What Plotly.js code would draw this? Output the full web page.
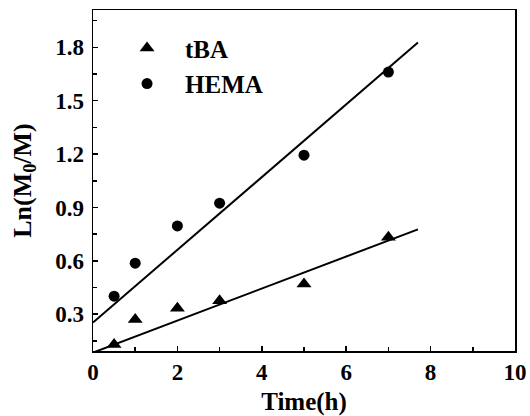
<!DOCTYPE html>
<html>
<head>
<meta charset="utf-8">
<script src="https://cdn.plot.ly/plotly-3.0.1.min.js"></script>
<style>html,body{margin:0;padding:0;background:#fff;}#chart{width:530px;height:416px;}</style>
</head>
<body>
<div id="chart"></div>
<script>
// Data
const timeH = [0.5, 1, 2, 3, 5, 7];
const tBA = [0.13, 0.27, 0.333, 0.375, 0.47, 0.733];
const HEMA = [0.401, 0.587, 0.796, 0.924, 1.194, 1.661];
// Linear fit lines (endpoints as drawn)
const fitX = [0, 7.7];
const fitTBA = [0.084, 0.777];
const fitHEMA = [0.253, 1.827];

const FONT = 'Liberation Serif, Times New Roman, serif';

const traces = [
  {x: fitX, y: fitTBA, mode: 'lines', line: {color: '#000', width: 2}, showlegend: false, hoverinfo: 'skip'},
  {x: fitX, y: fitHEMA, mode: 'lines', line: {color: '#000', width: 2}, showlegend: false, hoverinfo: 'skip'},
  {x: timeH, y: tBA, name: 'tBA', mode: 'markers', marker: {symbol: 'triangle-up', size: 13, color: '#000'}},
  {x: timeH, y: HEMA, name: 'HEMA', mode: 'markers', marker: {symbol: 'circle', size: 11, color: '#000'}}
];

const layout = {
  width: 530, height: 416,
  margin: {l: 93, r: 15, t: 10, b: 65},
  paper_bgcolor: '#fff', plot_bgcolor: '#fff',
  font: {family: FONT, color: '#000', size: 23, weight: 'bold'},
  showlegend: true,
  legend: {x: 0.038, y: 0.955, xanchor: 'left', yanchor: 'top', bgcolor: 'rgba(0,0,0,0)',
           font: {family: FONT, size: 25, weight: 'bold', color: '#000'}, itemwidth: 66, tracegroupgap: 0},
  xaxis: {
    range: [0, 10], tick0: 0, dtick: 2,
    showline: true, mirror: true, linecolor: '#000', linewidth: 1.5,
    ticks: 'inside', ticklen: 5, tickwidth: 1.5, tickcolor: '#000',
    minor: {ticks: 'inside', dtick: 1, ticklen: 4, tickwidth: 1.5, tickcolor: '#000'},
    showgrid: false, zeroline: false,
    tickfont: {family: FONT, size: 23, weight: 'bold'},
    title: {text: 'Time(h)', font: {family: FONT, size: 25, weight: 'bold'}, standoff: 9}
  },
  yaxis: {
    range: [0.093, 2.01], tick0: 0, dtick: 0.3, tickformat: '.1f',
    showline: true, mirror: true, linecolor: '#000', linewidth: 1.5,
    ticks: 'inside', ticklen: 5, tickwidth: 1.5, tickcolor: '#000',
    minor: {ticks: 'inside', tick0: 0, dtick: 0.15, ticklen: 4, tickwidth: 1.5, tickcolor: '#000'},
    showgrid: false, zeroline: false, ticklabelstandoff: 3,
    tickfont: {family: FONT, size: 23, weight: 'bold'},
    title: {text: 'Ln(M<sub>0</sub>/M)', font: {family: FONT, size: 26, weight: 'bold'}, standoff: 16}
  }
};

Plotly.newPlot('chart', traces, layout, {staticPlot: true, displayModeBar: false});
</script>
</body>
</html>
